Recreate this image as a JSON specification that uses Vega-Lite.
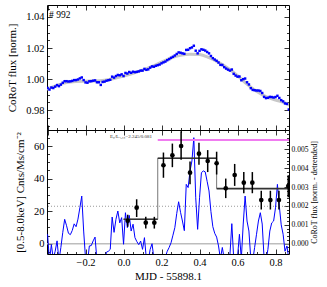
{
"$schema": "https://vega.github.io/schema/vega-lite/v6.json",
"padding": {"left": 6, "top": 3, "right": 0, "bottom": 4},
"spacing": 0,
"bounds": "flush",
"config": {
 "view": {"stroke": "black", "strokeWidth": 1},
 "font": "Liberation Serif",
 "axis": {"domain": false, "grid": false, "labelFont": "Liberation Serif", "titleFont": "Liberation Serif", "titleFontWeight": "normal", "labelColor": "black", "titleColor": "black", "tickColor": "black", "labelFontSize": 10.5, "titleFontSize": 11, "labelOverlap": false, "labelFlush": false, "tickWidth": 0.8}
},
"datasets": {
 "lc": [
  {"t":-0.40,"flux":0.9943,"det":0.00050},{"t":-0.39,"flux":0.9933,"det":-0.00090},{"t":-0.38,"flux":0.9946,"det":-0.00005},{"t":-0.37,"flux":0.9943,"det":-0.00080},{"t":-0.36,"flux":0.9952,"det":-0.00040},{"t":-0.35,"flux":0.9962,"det":0.00015},{"t":-0.34,"flux":0.9955,"det":-0.00090},{"t":-0.33,"flux":0.9965,"det":-0.00020},{"t":-0.32,"flux":0.9977,"det":0.00060},{"t":-0.31,"flux":0.9987,"det":0.00129},
  {"t":-0.30,"flux":0.9987,"det":0.00095},{"t":-0.29,"flux":0.9985,"det":0.00055},{"t":-0.28,"flux":0.9986,"det":0.00048},{"t":-0.27,"flux":0.9989,"det":0.00070},{"t":-0.26,"flux":0.9994,"det":0.00105},{"t":-0.25,"flux":0.9994,"det":0.00090},{"t":-0.24,"flux":0.9998,"det":0.00130},{"t":-0.23,"flux":1.0005,"det":0.00190},{"t":-0.22,"flux":1.0011,"det":0.00252},{"t":-0.21,"flux":0.9994,"det":0.00067},
  {"t":-0.20,"flux":0.9979,"det":-0.00080},{"t":-0.19,"flux":0.9977,"det":-0.00100},{"t":-0.18,"flux":0.9986,"det":-0.00012},{"t":-0.17,"flux":0.9987,"det":-0.00010},{"t":-0.16,"flux":0.9990,"det":0.00015},{"t":-0.15,"flux":0.9992,"det":0.00035},{"t":-0.14,"flux":0.9980,"det":-0.00090},{"t":-0.13,"flux":0.9980,"det":-0.00100},{"t":-0.12,"flux":0.9963,"det":-0.00280},{"t":-0.11,"flux":0.9982,"det":-0.00100},
  {"t":-0.10,"flux":0.9984,"det":-0.00090},{"t":-0.09,"flux":0.9990,"det":-0.00045},{"t":-0.08,"flux":0.9993,"det":-0.00040},{"t":-0.07,"flux":0.9996,"det":-0.00030},{"t":-0.06,"flux":1.0016,"det":0.00141},{"t":-0.05,"flux":1.0010,"det":0.00060},{"t":-0.04,"flux":1.0020,"det":0.00129},{"t":-0.03,"flux":1.0027,"det":0.00173},{"t":-0.02,"flux":1.0025,"det":0.00110},{"t":-0.01,"flux":1.0031,"det":0.00138},
  {"t":0.00,"flux":1.0020,"det":-0.00003},{"t":0.01,"flux":1.0040,"det":0.00164},{"t":0.02,"flux":1.0036,"det":0.00085},{"t":0.03,"flux":1.0046,"det":0.00150},{"t":0.04,"flux":1.0041,"det":0.00067},{"t":0.05,"flux":1.0048,"det":0.00103},{"t":0.06,"flux":1.0045,"det":0.00032},{"t":0.07,"flux":1.0047,"det":0.00011},{"t":0.08,"flux":1.0050,"det":-0.00005},{"t":0.09,"flux":1.0055,"det":0.00014},
  {"t":0.10,"flux":1.0055,"det":-0.00030},{"t":0.11,"flux":1.0066,"det":0.00032},{"t":0.12,"flux":1.0060,"det":-0.00080},{"t":0.13,"flux":1.0063,"det":-0.00090},{"t":0.14,"flux":1.0074,"det":-0.00030},{"t":0.15,"flux":1.0082,"det":0.00000},{"t":0.16,"flux":1.0080,"det":-0.00080},{"t":0.17,"flux":1.0086,"det":-0.00070},{"t":0.18,"flux":1.0090,"det":-0.00090},{"t":0.19,"flux":1.0094,"det":-0.00100},
  {"t":0.20,"flux":1.0102,"det":-0.00080},{"t":0.21,"flux":1.0108,"det":-0.00070},{"t":0.22,"flux":1.0113,"det":-0.00070},{"t":0.23,"flux":1.0122,"det":-0.00040},{"t":0.24,"flux":1.0129,"det":-0.00020},{"t":0.25,"flux":1.0137,"det":0.00005},{"t":0.26,"flux":1.0144,"det":0.00045},{"t":0.27,"flux":1.0152,"det":0.00085},{"t":0.28,"flux":1.0162,"det":0.00160},{"t":0.29,"flux":1.0172,"det":0.00222},
  {"t":0.30,"flux":1.0170,"det":0.00166},{"t":0.31,"flux":1.0166,"det":0.00120},{"t":0.32,"flux":1.0163,"det":0.00069},{"t":0.33,"flux":1.0188,"det":0.00314},{"t":0.34,"flux":1.0189,"det":0.00297},{"t":0.35,"flux":1.0199,"det":0.00385},{"t":0.36,"flux":1.0204,"det":0.00438},{"t":0.37,"flux":1.0215,"det":0.00561},{"t":0.38,"flux":1.0183,"det":0.00243},{"t":0.39,"flux":1.0166,"det":0.00076},
  {"t":0.40,"flux":1.0182,"det":0.00243},{"t":0.41,"flux":1.0192,"det":0.00376},{"t":0.42,"flux":1.0189,"det":0.00385},{"t":0.43,"flux":1.0184,"det":0.00380},{"t":0.44,"flux":1.0175,"det":0.00330},{"t":0.45,"flux":1.0166,"det":0.00279},{"t":0.46,"flux":1.0149,"det":0.00170},{"t":0.47,"flux":1.0135,"det":0.00090},{"t":0.48,"flux":1.0126,"det":0.00055},{"t":0.49,"flux":1.0118,"det":0.00035},
  {"t":0.50,"flux":1.0107,"det":-0.00012},{"t":0.51,"flux":1.0092,"det":-0.00080},{"t":0.52,"flux":1.0091,"det":-0.00020},{"t":0.53,"flux":1.0077,"det":-0.00080},{"t":0.54,"flux":1.0068,"det":-0.00100},{"t":0.55,"flux":1.0061,"det":-0.00090},{"t":0.56,"flux":1.0055,"det":-0.00060},{"t":0.57,"flux":1.0062,"det":0.00106},{"t":0.58,"flux":1.0034,"det":-0.00080},{"t":0.59,"flux":1.0023,"det":-0.00090},
  {"t":0.60,"flux":1.0016,"det":-0.00070},{"t":0.61,"flux":1.0017,"det":0.00050},{"t":0.62,"flux":0.9993,"det":-0.00080},{"t":0.63,"flux":1.0000,"det":0.00104},{"t":0.64,"flux":1.0004,"det":0.00252},{"t":0.65,"flux":0.9980,"det":0.00120},{"t":0.66,"flux":0.9966,"det":0.00067},{"t":0.67,"flux":0.9942,"det":-0.00080},{"t":0.68,"flux":0.9931,"det":-0.00090},{"t":0.69,"flux":0.9929,"det":-0.00020},
  {"t":0.70,"flux":0.9927,"det":0.00050},{"t":0.71,"flux":0.9927,"det":0.00120},{"t":0.72,"flux":0.9924,"det":0.00164},{"t":0.73,"flux":0.9911,"det":0.00104},{"t":0.74,"flux":0.9886,"det":-0.00080},{"t":0.75,"flux":0.9878,"det":-0.00090},{"t":0.76,"flux":0.9880,"det":-0.00030},{"t":0.77,"flux":0.9886,"det":0.00067},{"t":0.78,"flux":0.9885,"det":0.00110},{"t":0.79,"flux":0.9882,"det":0.00120},
  {"t":0.80,"flux":0.9885,"det":0.00190},{"t":0.81,"flux":0.9893,"det":0.00314},{"t":0.82,"flux":0.9879,"det":0.00200},{"t":0.83,"flux":0.9865,"det":0.00100},{"t":0.84,"flux":0.9857,"det":0.00050},{"t":0.85,"flux":0.9844,"det":-0.00040},{"t":0.86,"flux":0.9841,"det":-0.00012},{"t":0.87,"flux":0.9805,"det":-0.00080}
 ],
 "smooth": [
  {"t":-0.41,"s":0.9934},{"t":-0.40,"s":0.9938},{"t":-0.35,"s":0.9960},{"t":-0.30,"s":0.9978},{"t":-0.25,"s":0.9985},{"t":-0.20,"s":0.9987},{"t":-0.15,"s":0.9988},{"t":-0.10,"s":0.9993},{"t":-0.05,"s":1.0004},{"t":0.00,"s":1.0020},{"t":0.05,"s":1.0038},{"t":0.10,"s":1.0058},{"t":0.15,"s":1.0082},{"t":0.20,"s":1.0110},{"t":0.25,"s":1.0136},{"t":0.30,"s":1.0153},{"t":0.35,"s":1.0160},{"t":0.40,"s":1.0158},{"t":0.45,"s":1.0138},{"t":0.50,"s":1.0108},{"t":0.55,"s":1.0070},{"t":0.60,"s":1.0023},{"t":0.65,"s":0.9968},{"t":0.70,"s":0.9922},{"t":0.75,"s":0.9887},{"t":0.80,"s":0.9866},{"t":0.85,"s":0.9848},{"t":0.88,"s":0.9830}
 ],
 "xray": [
  {"t":0.022,"rate":14.1,"lo":10.4,"hi":17.8},{"t":0.069,"rate":22.1,"lo":16.4,"hi":27.3},{"t":0.117,"rate":12.9,"lo":9.3,"hi":16.5},{"t":0.162,"rate":12.9,"lo":9.3,"hi":16.5},{"t":0.21,"rate":48.2,"lo":40.5,"hi":56.0},{"t":0.257,"rate":54.3,"lo":47.0,"hi":61.5},{"t":0.303,"rate":60.0,"lo":51.5,"hi":69.0},{"t":0.35,"rate":43.6,"lo":36.5,"hi":50.5},{"t":0.397,"rate":55.3,"lo":48.5,"hi":62.0},{"t":0.443,"rate":50.8,"lo":44.0,"hi":57.5},{"t":0.49,"rate":49.4,"lo":42.5,"hi":56.5},{"t":0.538,"rate":34.0,"lo":28.0,"hi":40.0},{"t":0.585,"rate":42.2,"lo":35.5,"hi":49.0},{"t":0.633,"rate":37.5,"lo":31.0,"hi":44.0},{"t":0.678,"rate":37.5,"lo":31.0,"hi":44.0},{"t":0.725,"rate":26.8,"lo":21.0,"hi":32.5},{"t":0.773,"rate":26.8,"lo":21.0,"hi":32.5},{"t":0.818,"rate":26.8,"lo":21.0,"hi":32.5},{"t":0.867,"rate":35.4,"lo":28.5,"hi":42.0}
 ],
 "bins": [
  {"t0":0.0,"t1":0.18,"rate":15.0},{"t0":0.18,"t1":0.49,"rate":52.5},{"t0":0.49,"t1":0.9,"rate":33.8}
 ]
},
"vconcat": [
 {
  "width": 242, "height": 125,
  "layer": [
   {"data": {"name": "smooth"},
    "mark": {"type": "line", "color": "#c8c8c8", "strokeWidth": 3, "interpolate": "monotone", "clip": true},
    "encoding": {
     "x": {"field": "t", "type": "quantitative", "scale": {"domain": [-0.403, 0.871], "nice": false, "zero": false},
      "axis": {"orient": "bottom", "title": null, "labels": false, "values": [-0.4,-0.35,-0.3,-0.25,-0.2,-0.15,-0.1,-0.05,0,0.05,0.1,0.15,0.2,0.25,0.3,0.35,0.4,0.45,0.5,0.55,0.6,0.65,0.7,0.75,0.8,0.85],
       "tickSize": {"condition": {"test": "abs(datum.value/0.2-round(datum.value/0.2))<0.01", "value": -5}, "value": -2.5}}},
     "y": {"field": "s", "type": "quantitative", "scale": {"domain": [0.9673, 1.0477], "nice": false, "zero": false},
      "axis": {"orient": "left", "title": "CoRoT flux [norm.]", "titlePadding": 8, "labelPadding": 8,
       "values": [0.97,0.975,0.98,0.985,0.99,0.995,1.0,1.005,1.01,1.015,1.02,1.025,1.03,1.035,1.04,1.045],
       "labelExpr": "abs(datum.value*50-round(datum.value*50))<0.01 ? format(datum.value,'.2f') : ''",
       "tickSize": {"condition": {"test": "abs(datum.value*50-round(datum.value*50))<0.01", "value": -5}, "value": -2.5}}}
    }},
   {"data": {"name": "lc"},
    "mark": {"type": "square", "color": "#0000ff", "size": 6, "opacity": 1, "clip": true},
    "encoding": {
     "x": {"field": "t", "type": "quantitative", "scale": {"domain": [-0.403, 0.871], "nice": false, "zero": false},
      "axis": {"orient": "top", "title": null, "labels": false, "values": [-0.4,-0.35,-0.3,-0.25,-0.2,-0.15,-0.1,-0.05,0,0.05,0.1,0.15,0.2,0.25,0.3,0.35,0.4,0.45,0.5,0.55,0.6,0.65,0.7,0.75,0.8,0.85],
       "tickSize": {"condition": {"test": "abs(datum.value/0.2-round(datum.value/0.2))<0.01", "value": -5}, "value": -2.5}}},
     "y": {"field": "flux", "type": "quantitative", "scale": {"domain": [0.9673, 1.0477], "nice": false, "zero": false},
      "axis": {"orient": "right", "title": null, "labels": false,
       "values": [0.97,0.975,0.98,0.985,0.99,0.995,1.0,1.005,1.01,1.015,1.02,1.025,1.03,1.035,1.04,1.045],
       "tickSize": {"condition": {"test": "abs(datum.value*50-round(datum.value*50))<0.01", "value": -5}, "value": -2.5}}}
    }},
   {"data": {"values": [{}]},
    "mark": {"type": "text", "text": "# 992", "align": "left", "baseline": "middle", "fontSize": 9.5, "font": "Liberation Serif", "color": "black"},
    "encoding": {
     "x": {"datum": -0.392, "type": "quantitative", "scale": {"domain": [-0.403, 0.871], "nice": false, "zero": false}, "axis": null},
     "y": {"datum": 1.0412, "type": "quantitative", "scale": {"domain": [0.9673, 1.0477], "nice": false, "zero": false}, "axis": null}
    }}
  ],
  "resolve": {"axis": {"x": "independent", "y": "independent"}}
 },
 {
  "width": 242, "height": 124,
  "layer": [
   {"data": {"values": [{}]},
    "mark": {"type": "rule", "color": "#bdbdbd", "strokeWidth": 1.5},
    "encoding": {"y": {"datum": 0, "type": "quantitative", "scale": {"domain": [-6.33, 69.84], "nice": false, "zero": false}, "axis": null}}},
   {"data": {"values": [{}]},
    "mark": {"type": "rule", "color": "#808080", "strokeWidth": 0.8, "strokeDash": [1, 2]},
    "encoding": {"y": {"datum": 23, "type": "quantitative", "scale": {"domain": [-6.33, 69.84], "nice": false, "zero": false}, "axis": null}}},
   {"data": {"name": "lc"},
    "mark": {"type": "line", "color": "#0000ff", "strokeWidth": 1, "clip": true},
    "encoding": {
     "x": {"field": "t", "type": "quantitative", "scale": {"domain": [-0.403, 0.871], "nice": false, "zero": false}, "axis": null},
     "y": {"field": "det", "type": "quantitative", "scale": {"domain": [-0.000545, 0.006016], "nice": false, "zero": false},
      "axis": {"orient": "right", "title": "CoRoT flux [norm. - detrended]", "titleAngle": 270, "titleBaseline": "top", "titleFontSize": 8, "labelFontSize": 7.5, "titlePadding": 3, "labelPadding": 7,
       "values": [-0.0004,-0.0002,0,0.0002,0.0004,0.0006,0.0008,0.001,0.0012,0.0014,0.0016,0.0018,0.002,0.0022,0.0024,0.0026,0.0028,0.003,0.0032,0.0034,0.0036,0.0038,0.004,0.0042,0.0044,0.0046,0.0048,0.005,0.0052,0.0054,0.0056,0.0058,0.006],
       "labelExpr": "abs(datum.value*1000-round(datum.value*1000))<0.01 && datum.value > -0.0001 && datum.value < 0.0055 ? format(datum.value,'.3f') : ''",
       "tickSize": {"condition": {"test": "abs(datum.value*1000-round(datum.value*1000))<0.01", "value": -5}, "value": -2.5}}}
    }},
   {"data": {"name": "bins"},
    "mark": {"type": "line", "color": "#777777", "strokeWidth": 1, "interpolate": "step-after", "clip": true},
    "encoding": {
     "x": {"field": "t0", "type": "quantitative", "scale": {"domain": [-0.403, 0.871], "nice": false, "zero": false}, "axis": null},
     "y": {"field": "rate", "type": "quantitative", "scale": {"domain": [-6.33, 69.84], "nice": false, "zero": false}, "axis": null}
    }},
   {"data": {"name": "bins"},
    "mark": {"type": "rule", "color": "#333333", "strokeWidth": 1.6, "clip": true},
    "encoding": {
     "x": {"field": "t0", "type": "quantitative", "scale": {"domain": [-0.403, 0.871], "nice": false, "zero": false}, "axis": null},
     "x2": {"field": "t1"},
     "y": {"field": "rate", "type": "quantitative", "scale": {"domain": [-6.33, 69.84], "nice": false, "zero": false}, "axis": null}
    }},
   {"data": {"values": [{}]},
    "mark": {"type": "rule", "color": "#f07cf0", "strokeWidth": 2, "clip": true},
    "encoding": {
     "x": {"datum": 0.18, "type": "quantitative", "scale": {"domain": [-0.403, 0.871], "nice": false, "zero": false}, "axis": null},
     "x2": {"datum": 0.9},
     "y": {"datum": 63.7, "type": "quantitative", "scale": {"domain": [-6.33, 69.84], "nice": false, "zero": false}, "axis": null}
    }},
   {"data": {"name": "xray"},
    "mark": {"type": "rule", "color": "black", "strokeWidth": 1.5, "clip": true},
    "encoding": {
     "x": {"field": "t", "type": "quantitative", "scale": {"domain": [-0.403, 0.871], "nice": false, "zero": false},
      "axis": {"orient": "bottom", "title": "MJD - 55898.1", "titlePadding": 0, "labelPadding": 8,
       "values": [-0.4,-0.35,-0.3,-0.25,-0.2,-0.15,-0.1,-0.05,0,0.05,0.1,0.15,0.2,0.25,0.3,0.35,0.4,0.45,0.5,0.55,0.6,0.65,0.7,0.75,0.8,0.85],
       "labelExpr": "abs(datum.value/0.2-round(datum.value/0.2))<0.01 && datum.value > -0.3 ? format(datum.value,'.1f') : ''",
       "tickSize": {"condition": {"test": "abs(datum.value/0.2-round(datum.value/0.2))<0.01", "value": -5}, "value": -2.5}}},
     "y": {"field": "lo", "type": "quantitative", "scale": {"domain": [-6.33, 69.84], "nice": false, "zero": false},
      "axis": {"orient": "left", "title": "[0.5-8.0keV] Cnts/Ms/cm⁻²", "titlePadding": 8, "labelPadding": 8,
       "values": [-5,0,5,10,15,20,25,30,35,40,45,50,55,60,65],
       "labelExpr": "abs(datum.value/20-round(datum.value/20))<0.01 ? format(datum.value,'d') : ''",
       "tickSize": {"condition": {"test": "abs(datum.value/20-round(datum.value/20))<0.01", "value": -5}, "value": -2.5}}},
     "y2": {"field": "hi"}
    }},
   {"data": {"name": "xray"},
    "mark": {"type": "circle", "color": "black", "size": 22, "opacity": 1, "clip": true},
    "encoding": {
     "x": {"field": "t", "type": "quantitative", "scale": {"domain": [-0.403, 0.871], "nice": false, "zero": false},
      "axis": {"orient": "top", "title": null, "labels": false,
       "values": [-0.4,-0.35,-0.3,-0.25,-0.2,-0.15,-0.1,-0.05,0,0.05,0.1,0.15,0.2,0.25,0.3,0.35,0.4,0.45,0.5,0.55,0.6,0.65,0.7,0.75,0.8,0.85],
       "tickSize": {"condition": {"test": "abs(datum.value/0.2-round(datum.value/0.2))<0.01", "value": -5}, "value": -2.5}}},
     "y": {"field": "rate", "type": "quantitative", "scale": {"domain": [-6.33, 69.84], "nice": false, "zero": false}, "axis": null}
    }},
   {"data": {"values": [{}]},
    "mark": {"type": "text", "text": "E₀/Lₓ,₁₀=2.245/0.081", "align": "center", "baseline": "middle", "fontSize": 5, "font": "Liberation Serif", "color": "#333333"},
    "encoding": {
     "x": {"datum": 0.039, "type": "quantitative", "scale": {"domain": [-0.403, 0.871], "nice": false, "zero": false}, "axis": null},
     "y": {"datum": 66.2, "type": "quantitative", "scale": {"domain": [-6.33, 69.84], "nice": false, "zero": false}, "axis": null}
    }}
  ],
  "resolve": {"scale": {"y": "independent"}, "axis": {"x": "independent", "y": "independent"}}
 }
]
}
